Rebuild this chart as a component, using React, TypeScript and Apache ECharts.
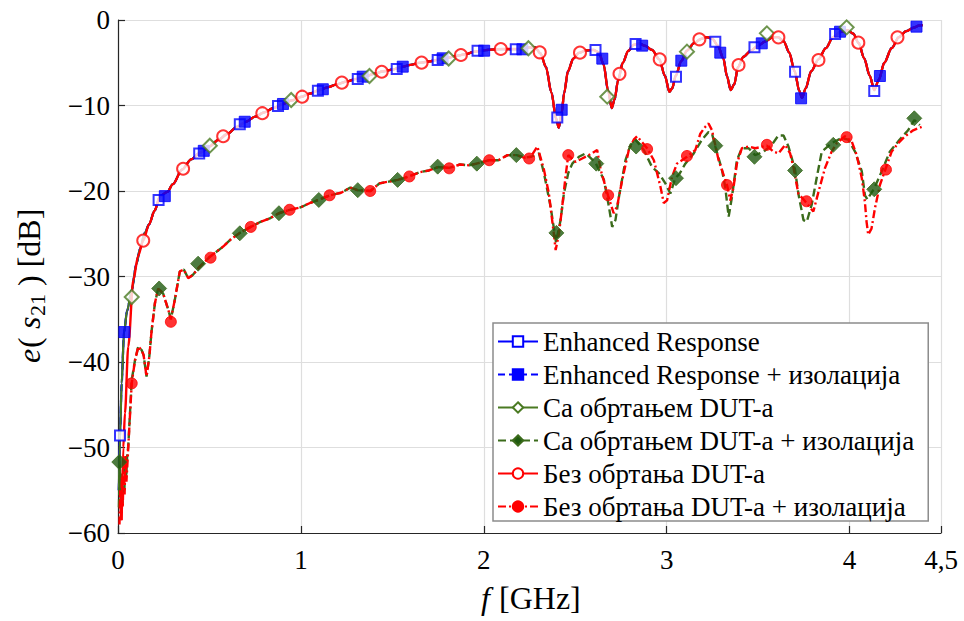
import React, { useEffect, useRef } from "react";
import * as echarts from "echarts";

// ---------- axis ticks ----------
const X_MIN = 0;
const X_MAX = 4.5;
const X_STEP = 1;
const Y_MIN = -60;
const Y_MAX = 0;
const Y_STEP = 10;

// ---------- legend names ----------
const NAMES = [
  "Enhanced Response",
  "Enhanced Response + изолација",
  "Са обртањем DUT-а",
  "Са обртањем DUT-а + изолација",
  "Без обртања DUT-а",
  "Без обртања DUT-а + изолација",
];

// ---------- upper curve (without isolation) ----------
const ER_HEAD_F = [0.005, 0.011, 0.02, 0.033, 0.05, 0.075, 0.1, 0.12, 0.147];
const ER_HEAD_DB = [-55, -48.6, -42.5, -36.5, -34, -31.6, -28.6, -26.8, -24.9];
const BEZ_HEAD_F = [0.02, 0.029, 0.038, 0.056, 0.084, 0.11, 0.138];
const BEZ_HEAD_DB = [-58.5, -50, -46, -38.2, -30.4, -27.6, -25.8];
const UPPER_F = [
  0.17, 0.2, 0.23, 0.27, 0.3, 0.35, 0.4, 0.45, 0.5, 0.55, 0.6, 0.65, 0.7, 0.75, 0.8, 0.85,
  0.9, 0.95, 1.0, 1.05, 1.1, 1.15, 1.2, 1.25, 1.3, 1.35, 1.4, 1.45, 1.5, 1.55, 1.6, 1.65,
  1.7, 1.75, 1.8, 1.85, 1.9, 1.95, 2.0, 2.05, 2.1, 2.15, 2.2, 2.25, 2.28, 2.31, 2.34, 2.37,
  2.395, 2.41, 2.425, 2.44, 2.46, 2.49, 2.52, 2.56, 2.6, 2.63, 2.655, 2.68, 2.7, 2.715,
  2.735, 2.76, 2.79, 2.82, 2.85, 2.88, 2.92, 2.96, 2.99, 3.015, 3.03, 3.05, 3.08, 3.11,
  3.15, 3.19, 3.22, 3.25, 3.28, 3.31, 3.33, 3.35, 3.37, 3.39, 3.42, 3.46, 3.5, 3.54, 3.58,
  3.61, 3.64, 3.67, 3.7, 3.725, 3.74, 3.76, 3.79, 3.83, 3.87, 3.91, 3.95, 3.99, 4.02, 4.05,
  4.08, 4.11, 4.135, 4.16, 4.19, 4.23, 4.27, 4.31, 4.35, 4.38, 4.4,
];
const UPPER_DB = [
  -23.9, -22.3, -20.6, -20.1, -19.2, -17.5, -16.3, -15.5, -14.8, -14.0, -13.3, -12.5, -11.9,
  -11.3, -10.8, -10.3, -9.85, -9.4, -9.0, -8.6, -8.2, -7.85, -7.5, -7.2, -6.9, -6.6, -6.3,
  -6.0, -5.8, -5.5, -5.25, -5.0, -4.85, -4.65, -4.45, -4.2, -4.0, -3.7, -3.55, -3.45, -3.4,
  -3.4, -3.4, -3.2, -3.2, -3.9, -5.5, -8.5, -11.5, -12.6, -11.0, -8.5, -6.0, -4.5, -3.85,
  -3.55, -3.5, -3.8, -5.2, -8.3, -10.3, -9.3, -7.0, -5.0, -3.6, -2.9, -2.75, -3.0, -3.5,
  -4.6, -6.5, -8.4, -8.0, -6.5, -4.8, -3.6, -2.7, -2.2, -2.0, -2.2, -3.0, -4.5, -6.6, -8.2,
  -7.5, -5.5, -4.3, -3.6, -3.0, -2.5, -2.0, -2.0, -2.5, -3.8, -6.0, -8.3, -9.1, -8.0, -6.0,
  -4.6, -3.3, -2.0, -1.4, -1.2, -1.6, -2.7, -4.5, -6.5, -8.2, -7.0, -5.0, -3.3, -2.0, -1.3,
  -0.9, -0.65, -0.6,
];

// ---------- lower curves (with isolation) ----------
const OBR_ISO_HEAD_F = [0.005, 0.01, 0.015, 0.02, 0.025, 0.03, 0.035, 0.04, 0.045, 0.05, 0.056, 0.075];
const OBR_ISO_HEAD_DB = [-57, -52, -57, -53, -56.5, -52.5, -55, -51, -53.5, -51, -49.9, -42.1];
const BEZ_ISO_HEAD_F = [0.008, 0.012, 0.016, 0.021, 0.026, 0.031, 0.036, 0.041, 0.046, 0.05, 0.056, 0.075];
const BEZ_ISO_HEAD_DB = [-59, -55, -58.5, -53.5, -57, -52, -55.5, -51, -54, -52.5, -50, -42.5];
const LOWER_MID_F = [
  0.093, 0.111, 0.129, 0.14, 0.156, 0.171, 0.184, 0.202, 0.22, 0.247, 0.275, 0.289, 0.311,
  0.338, 0.36, 0.384, 0.41, 0.444, 0.502, 0.575, 0.62, 0.666, 0.726, 0.78, 0.83, 0.88, 0.94,
  1.0, 1.05, 1.1, 1.16, 1.22, 1.27, 1.31, 1.38, 1.43, 1.48, 1.53, 1.59, 1.65, 1.7, 1.75,
  1.81, 1.87, 1.92, 1.96, 2.03, 2.08, 2.13, 2.18, 2.22, 2.257,
];
const LOWER_MID_DB = [
  -39.8, -38.2, -38.6, -39.2, -41.7, -39.4, -36.3, -33.1, -31.4, -32.0, -33.9, -35.0, -32.7,
  -29.4, -29.2, -30.2, -29.8, -28.9, -27.7, -26.5, -25.6, -24.9, -24.2, -23.6, -23.2, -22.6,
  -22.2, -21.9, -21.4, -21.0, -20.5, -20.2, -19.6, -19.9, -20.0, -19.1, -18.9, -18.7, -18.3,
  -17.8, -17.6, -17.2, -17.3, -16.9, -17.0, -16.8, -16.4, -16.4, -15.8, -15.8, -16.1, -16.0,
];
const OBR_ISO_TAIL_F = [
  2.302, 2.329, 2.365, 2.395, 2.42, 2.438, 2.462, 2.484, 2.52, 2.557, 2.611, 2.657, 2.684,
  2.702, 2.72, 2.739, 2.775, 2.802, 2.829, 2.875, 2.92, 2.957, 2.993, 3.02, 3.047, 3.07,
  3.102, 3.148, 3.193, 3.229, 3.248, 3.266, 3.302, 3.32, 3.339, 3.357, 3.384, 3.411, 3.448,
  3.484, 3.53, 3.575, 3.611, 3.639, 3.666, 3.702, 3.72, 3.748, 3.766, 3.793, 3.82, 3.848,
  3.902, 3.957, 3.993, 4.03, 4.067, 4.084, 4.098, 4.111, 4.135, 4.184, 4.22, 4.266, 4.32,
  4.354, 4.384,
];
const OBR_ISO_TAIL_DB = [
  -15.6, -17.9, -21.8, -26.0, -23.4, -20.3, -17.9, -16.8, -16.0, -15.6, -16.7, -18.7, -21.8,
  -24.2, -23.4, -20.7, -16.4, -14.6, -14.0, -15.2, -17.2, -17.9, -19.1, -20.3, -18.5, -18.0,
  -16.8, -15.6, -14.0, -13.1, -13.3, -14.8, -17.5, -19.5, -23.0, -20.7, -16.4, -15.0, -15.0,
  -15.8, -15.4, -14.6, -13.5, -13.5, -14.8, -17.5, -20.3, -23.4, -23.6, -21.6, -18.5, -15.4,
  -14.4, -13.8, -14.0, -15.4, -17.7, -20.5, -21.0, -20.5, -19.7, -17.3, -15.4, -14.2, -12.9,
  -11.7, -12.3,
];
const BEZ_ISO_TAIL_F = [
  2.293, 2.329, 2.356, 2.383, 2.393, 2.411, 2.429, 2.447, 2.462, 2.502, 2.538, 2.575, 2.62,
  2.639, 2.679, 2.71, 2.729, 2.757, 2.793, 2.82, 2.838, 2.893, 2.93, 2.966, 2.984, 3.002,
  3.03, 3.056, 3.111, 3.157, 3.184, 3.211, 3.229, 3.248, 3.284, 3.33, 3.348, 3.366, 3.384,
  3.411, 3.448, 3.484, 3.548, 3.584, 3.611, 3.648, 3.675, 3.693, 3.72, 3.757, 3.802, 3.83,
  3.866, 3.902, 3.93, 3.975, 4.012, 4.039, 4.067, 4.084, 4.093, 4.102, 4.12, 4.139, 4.166,
  4.197, 4.23, 4.266, 4.303, 4.348, 4.394,
];
const BEZ_ISO_TAIL_DB = [
  -14.8, -17.5, -20.3, -25.0, -26.9, -25.0, -21.8, -18.3, -15.8, -16.6, -16.2, -15.8, -15.2,
  -17.5, -20.5, -22.6, -21.8, -18.7, -15.2, -14.0, -13.6, -15.0, -16.4, -19.5, -21.4, -21.1,
  -18.3, -16.8, -16.0, -15.2, -13.3, -12.5, -12.1, -12.9, -16.4, -19.3, -21.1, -19.5, -16.8,
  -15.0, -14.8, -15.0, -14.7, -15.4, -15.6, -14.6, -15.6, -17.2, -20.3, -21.2, -22.4, -20.1,
  -17.3, -15.4, -14.4, -13.6, -14.2, -15.8, -18.5, -21.3, -23.6, -25.1, -24.4, -22.0, -19.3,
  -17.4, -15.4, -14.4, -13.6, -12.9, -12.5,
];

// ---------- markers ----------
const ER_MARK_F = [0.011, 0.222, 0.444, 0.666, 0.875, 1.093, 1.311, 1.524, 1.748, 1.966, 2.175, 2.402, 2.611, 2.83, 3.051, 3.266, 3.48, 3.702, 3.921, 4.135];
const ER_MARK_DB = [-48.6, -21.05, -15.6, -12.2, -10.06, -8.27, -6.9, -5.73, -4.68, -3.59, -3.43, -11.4, -3.5, -2.8, -6.63, -2.53, -3.2, -6.04, -1.64, -8.3];
const ER_ISO_MARK_F = [0.035, 0.256, 0.469, 0.693, 0.902, 1.12, 1.338, 1.557, 1.775, 2.002, 2.211, 2.426, 2.648, 2.866, 3.08, 3.293, 3.52, 3.735, 3.948, 4.166, 4.366];
const ER_ISO_MARK_DB = [-36.5, -20.6, -15.3, -11.9, -9.82, -8.1, -6.63, -5.46, -4.48, -3.59, -3.43, -10.5, -4.52, -3.0, -4.76, -3.82, -2.73, -9.16, -1.37, -6.55, -0.78];
const OBR_MARK_F = [0.075, 0.502, 0.947, 1.375, 1.808, 2.244, 2.675, 3.111, 3.548, 3.984];
const OBR_MARK_DB = [-32.4, -14.7, -9.36, -6.55, -4.5, -3.3, -8.97, -3.7, -1.56, -0.86];
const OBR_ISO_MARK_F = [0.007, 0.225, 0.438, 0.666, 0.88, 1.098, 1.311, 1.529, 1.748, 1.962, 2.178, 2.397, 2.615, 2.833, 3.051, 3.266, 3.48, 3.702, 3.911, 4.135, 4.354];
const OBR_ISO_MARK_DB = [-51.7, -31.4, -28.5, -24.95, -22.6, -21.05, -19.9, -18.7, -17.15, -16.8, -15.8, -24.9, -16.8, -14.8, -18.5, -14.7, -16.0, -17.6, -14.6, -19.8, -11.5];
const BEZ_MARK_F = [0.138, 0.356, 0.575, 0.789, 1.007, 1.224, 1.442, 1.66, 1.875, 2.093, 2.306, 2.526, 2.742, 2.962, 3.179, 3.393, 3.611, 3.83, 4.048, 4.262];
const BEZ_MARK_DB = [-25.8, -17.4, -13.6, -10.9, -8.97, -7.33, -6.05, -4.99, -4.09, -3.39, -3.78, -3.82, -6.3, -4.6, -2.26, -5.26, -2.03, -4.68, -2.65, -2.03];
const BEZ_ISO_MARK_F = [0.075, 0.289, 0.506, 0.726, 0.938, 1.157, 1.379, 1.593, 1.811, 2.03, 2.248, 2.462, 2.68, 2.893, 3.111, 3.33, 3.548, 3.765, 3.984, 4.199];
const BEZ_ISO_MARK_DB = [-42.5, -35.3, -27.8, -24.2, -22.2, -20.5, -20.0, -18.3, -17.35, -16.4, -16.2, -15.8, -20.5, -15.1, -15.9, -19.3, -14.6, -21.2, -13.7, -17.5];

const FONT = "Liberation Serif";
const BLUE = "#0000ff";
const GREEN = "#4a7a22";
const DKGREEN = "#3b6b1b";
const DKGREEN_FILL = "#1f5a10";
const RED = "#ff0000";

const pts = (f: number[], db: number[]) => f.map((x, i) => [x, db[i]]);

function lineS(name: string, f: number[], db: number[], color: string, type: any, width: number, symbol: string, item: any, z: number, smooth: number) {
  return {
    type: "line",
    name,
    data: pts(f, db),
    showSymbol: false,
    symbol,
    symbolSize: 11,
    smooth,
    smoothMonotone: "x",
    itemStyle: item,
    lineStyle: { color, width, type },
    z,
    silent: true,
  };
}

function markS(name: string, f: number[], db: number[], symbol: string, size: number, item: any, z: number) {
  return {
    type: "scatter",
    name,
    data: pts(f, db),
    symbol,
    symbolSize: size,
    itemStyle: item,
    z,
    silent: true,
  };
}

function txt(text: string, x: number, y: number, size: number, italic: boolean) {
  return {
    type: "text",
    x,
    y,
    silent: true,
    style: {
      text,
      fontFamily: FONT,
      fontSize: size,
      fontStyle: italic ? "italic" : "normal",
      fill: "#000",
      align: "left",
      verticalAlign: "middle",
    },
  };
}

const serifRich = (size: number) => ({ t: { fontFamily: FONT, fontSize: size, color: "#000" } });

export default function App() {
  const ref = useRef<HTMLDivElement>(null);
  useEffect(() => {
    document.body.style.margin = "0";
    const chart = echarts.init(ref.current!, null, { renderer: "svg" });
    const erF = ER_HEAD_F.concat(UPPER_F);
    const erDb = ER_HEAD_DB.concat(UPPER_DB);
    const bezF = BEZ_HEAD_F.concat(UPPER_F);
    const bezDb = BEZ_HEAD_DB.concat(UPPER_DB);
    const obrIsoF = OBR_ISO_HEAD_F.concat(LOWER_MID_F, OBR_ISO_TAIL_F);
    const obrIsoDb = OBR_ISO_HEAD_DB.concat(LOWER_MID_DB, OBR_ISO_TAIL_DB);
    const bezIsoF = BEZ_ISO_HEAD_F.concat(LOWER_MID_F, BEZ_ISO_TAIL_F);
    const bezIsoDb = BEZ_ISO_HEAD_DB.concat(LOWER_MID_DB, BEZ_ISO_TAIL_DB);

    const openBlue = { color: "#ffffff", borderColor: BLUE, borderWidth: 2 };
    const fillBlue = { color: BLUE, borderColor: BLUE, borderWidth: 1 };
    const openGreen = { color: "#ffffff", borderColor: GREEN, borderWidth: 2 };
    const fillGreen = { color: DKGREEN_FILL, borderColor: DKGREEN, borderWidth: 1 };
    const openRed = { color: "#ffffff", borderColor: RED, borderWidth: 2 };
    const fillRed = { color: RED, borderColor: RED, borderWidth: 1 };

    const series = [
      lineS(NAMES[0], erF, erDb, BLUE, "solid", 2.2, "rect", openBlue, 2, 0.3),
      markS(NAMES[0], ER_MARK_F, ER_MARK_DB, "rect", 10, openBlue, 3),
      lineS(NAMES[1], erF, erDb, BLUE, [7, 4], 2.2, "rect", fillBlue, 2, 0.3),
      markS(NAMES[1], ER_ISO_MARK_F, ER_ISO_MARK_DB, "rect", 11, fillBlue, 3),
      lineS(NAMES[2], erF, erDb, GREEN, "solid", 2.2, "diamond", openGreen, 2, 0.3),
      markS(NAMES[2], OBR_MARK_F, OBR_MARK_DB, "diamond", 14, openGreen, 3),
      lineS(NAMES[3], obrIsoF, obrIsoDb, DKGREEN, [8, 4], 2.4, "diamond", fillGreen, 2, 0),
      markS(NAMES[3], OBR_ISO_MARK_F, OBR_ISO_MARK_DB, "diamond", 15, fillGreen, 3),
      lineS(NAMES[4], bezF, bezDb, RED, "solid", 2.4, "circle", openRed, 2, 0.3),
      markS(NAMES[4], BEZ_MARK_F, BEZ_MARK_DB, "circle", 12, openRed, 3),
      lineS(NAMES[5], bezIsoF, bezIsoDb, RED, [8, 3, 2, 3], 2.4, "circle", fillRed, 2, 0),
      markS(NAMES[5], BEZ_ISO_MARK_F, BEZ_ISO_MARK_DB, "circle", 11, fillRed, 3),
    ];

    const option: any = {
      animation: false,
      grid: { left: 118, right: 23, top: 20, bottom: 88 },
      xAxis: {
        type: "value",
        min: X_MIN,
        max: X_MAX,
        interval: X_STEP,
        axisLine: { show: true, onZero: false, lineStyle: { color: "#262626", width: 1.2 } },
        axisTick: { show: true, inside: true, length: 7, lineStyle: { color: "#262626", width: 1.2 } },
        axisLabel: {
          fontFamily: FONT,
          fontSize: 27,
          color: "#000",
          margin: 13,
          formatter: (v: number) => "{t|" + String(v).replace(".", ",") + "}",
          rich: serifRich(27),
        },
        splitLine: { show: true, lineStyle: { color: "#dedede", width: 1.2 } },
      },
      yAxis: {
        type: "value",
        min: Y_MIN,
        max: Y_MAX,
        interval: Y_STEP,
        axisLine: { show: true, onZero: false, lineStyle: { color: "#262626", width: 1.2 } },
        axisTick: { show: true, inside: true, length: 7, lineStyle: { color: "#262626", width: 1.2 } },
        axisLabel: {
          fontFamily: FONT,
          fontSize: 27,
          color: "#000",
          margin: 8,
          formatter: (v: number) => "{t|" + (v < 0 ? "\u2212" + Math.abs(v) : String(v)) + "}",
          rich: serifRich(27),
        },
        splitLine: { show: true, lineStyle: { color: "#dedede", width: 1.2 } },
      },
      legend: {
        data: NAMES,
        orient: "vertical",
        left: 493,
        top: 323,
        padding: [5, 14, 1, 4],
        itemGap: 6,
        itemWidth: 40,
        itemHeight: 13,
        backgroundColor: "#ffffff",
        borderColor: "#8c8c8c",
        borderWidth: 1.5,
        borderRadius: 0,
        formatter: (name: string) => "{t|" + name + "}",
        textStyle: { fontFamily: FONT, fontSize: 27, color: "#000", rich: serifRich(27) },
        selectedMode: false,
      },
      graphic: [
        {
          type: "group",
          x: 530,
          y: 598,
          silent: true,
          children: [txt("f", -49, 0, 32, true), txt("[GHz]", -31, 0, 32, false)],
        },
        {
          type: "group",
          x: 29,
          y: 285,
          rotation: Math.PI / 2,
          silent: true,
          children: [
            txt("e", -78, 0, 32, true),
            txt("( ", -63, 0, 32, false),
            txt("s", -44, 0, 32, true),
            txt("21", -31, 8, 22, false),
            txt(" ) [dB]", -9, 0, 32, false),
          ],
        },
      ],
      series,
    };
    chart.setOption(option);
    return () => chart.dispose();
  }, []);
  return <div ref={ref} style={{ width: 964, height: 621 }} />;
}
